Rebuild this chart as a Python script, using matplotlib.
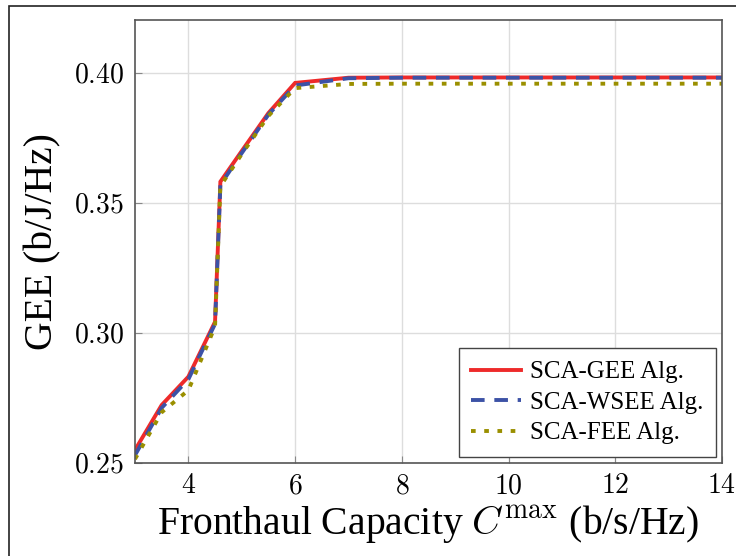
import numpy as np
import matplotlib
matplotlib.use('Agg')
import matplotlib.pyplot as plt
from matplotlib.patches import Rectangle

plt.rcParams['font.family'] = ['Liberation Serif', 'DejaVu Serif']
plt.rcParams['mathtext.fontset'] = 'cm'

# fronthaul capacity (b/s/Hz)
c_max = [3, 3.5, 4, 4.5, 4.6, 5, 5.5, 6, 7, 8, 9, 10, 11, 12, 13, 14]
# GEE values (b/J/Hz)
gee_sca = [0.255, 0.2723, 0.2832, 0.3043, 0.3582, 0.370, 0.3846, 0.3962,
           0.3982, 0.3983, 0.3983, 0.3983, 0.3983, 0.3983, 0.3983, 0.3983]
wsee_sca = [0.253, 0.2712, 0.2822, 0.3035, 0.3570, 0.3692, 0.3840, 0.3952,
            0.3980, 0.3982, 0.3982, 0.3982, 0.3982, 0.3982, 0.3982, 0.3982]
fee_sca = [0.2515, 0.2695, 0.2780, 0.3025, 0.3565, 0.3688, 0.3835, 0.3942,
           0.3958, 0.3959, 0.3959, 0.3959, 0.3959, 0.3959, 0.3959, 0.3959]

x_ticks = [4, 6, 8, 10, 12, 14]
y_ticks = [0.25, 0.30, 0.35, 0.40]

fig = plt.figure(figsize=(7.36, 5.56), dpi=100)
ax = fig.add_axes([135 / 736, 1 - 463 / 556, 587 / 736, 443 / 556])

# outer frame around the whole figure
fig.patches.append(Rectangle((9 / 736, -0.05), 1.1, 1 - 6 / 556 + 0.05,
                             transform=fig.transFigure, fill=False,
                             edgecolor='#222222', linewidth=1.2))

ax.plot(c_max, gee_sca, color='#ee2a2a', lw=2.8, label='SCA-GEE Alg.',
        solid_joinstyle='miter')
ax.plot(c_max, wsee_sca, color='#3c52a6', lw=2.8, linestyle=(0, (3.5, 2.5)),
        label='SCA-WSEE Alg.')
ax.plot(c_max, fee_sca, color='#9a8f00', lw=2.8, linestyle=(0, (1.2, 2.2)),
        label='SCA-FEE Alg.')

ax.set_xlim(3, 14)
ax.set_ylim(0.25, 0.4204)
ax.set_xticks(x_ticks)
ax.set_xticklabels(['$%d$' % t for t in x_ticks])
ax.set_yticks(y_ticks)
ax.set_yticklabels(['$%.2f$' % t for t in y_ticks])
ax.tick_params(direction='in', length=5, color='#888888', labelsize=20, pad=8)
ax.grid(True, color='#dddddd', lw=1)
ax.set_axisbelow(True)
for sp in ax.spines.values():
    sp.set_color('#555555')
    sp.set_linewidth(1.2)

ax.set_xlabel(r'Fronthaul Capacity $C^{\max}$ (b/s/Hz)', fontsize=28.5, labelpad=3)
ax.set_ylabel('GEE (b/J/Hz)', fontsize=28.5, labelpad=9)

leg = ax.legend(loc='lower right', fontsize=18, fancybox=False, framealpha=1,
                edgecolor='#444444', handlelength=2.0, handletextpad=0.35,
                borderpad=0.5, labelspacing=0.32, borderaxespad=0.25)
leg.get_frame().set_linewidth(1.0)

fig.savefig('out.png', dpi=100)
